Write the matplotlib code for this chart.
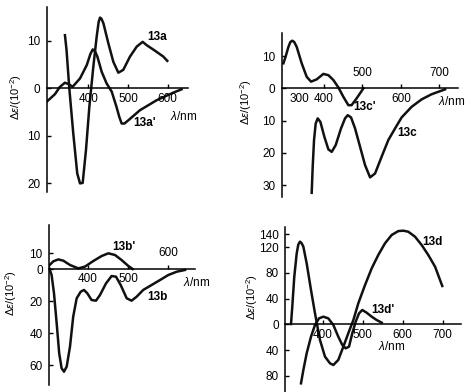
import matplotlib
matplotlib.use("Agg")
import matplotlib.pyplot as plt

plt.rcParams['font.family'] = ['Liberation Sans', 'DejaVu Sans']
plt.rcParams['mathtext.fontset'] = 'custom'
plt.rcParams['mathtext.rm'] = 'Liberation Sans'
plt.rcParams['mathtext.it'] = 'Liberation Sans:italic'

# --- data (wavelength in nm, delta-epsilon in 10^-2) ---
wl_13a = [341, 345, 352, 362, 372, 379, 385.7, 394, 402.5, 412.6, 421, 426, 429.4, 432.8, 438,
          450.4, 463, 475.6, 488, 505, 522, 537, 547, 559.7, 572, 589, 599]
de_13a = [11.2, 8.1, 0, -9.5, -17.9, -20, -19.9, -13, -3.9, 4.6, 10.9, 14.0, 14.9, 14.7, 13.7,
          9.5, 5.6, 3.3, 3.9, 6.7, 8.8, 9.8, 9.1, 8.4, 7.7, 6.7, 5.8]
wl_13a2 = [295, 316, 328, 341, 350, 360.5, 379, 396, 405, 411, 417, 422.7, 433.6, 446, 459,
           471, 478, 484, 491, 501, 530, 572, 614, 635]
de_13a2 = [-2.8, -1.2, 0.3, 1.2, 0.9, 0.35, 2.1, 4.9, 7.2, 8.2, 7.8, 6.7, 3.5, 1.05, -0.7,
           -3.9, -6.0, -7.4, -7.4, -6.7, -4.6, -2.5, -0.9, -0.2]

wl_13c2 = [295, 301, 308, 313, 318, 323, 329.4, 342.4, 355.4, 366.7, 381.4, 398.7, 411.7,
           424.7, 437.7, 450.6, 463.6, 472, 485, 502.6]
de_13c2 = [7.8, 10, 12.9, 14.4, 14.8, 14.4, 12.9, 7.8, 3.6, 2.1, 2.8, 4.5, 4.1,
           2.6, 0.3, -2.6, -5.2, -5.2, -3.1, 0]
wl_13c = [368.4, 371, 374.5, 378.8, 384, 391, 401.3, 411.7, 420.3, 430.7, 444.6, 455, 462,
          470.6, 481, 494, 507, 520, 533, 550, 567.5, 585, 602, 628, 654, 680, 714.7]
de_13c = [-32.4, -24.3, -16, -10.9, -9.3, -10.4, -15, -18.9, -19.7, -17.6, -12.4, -9.3, -8.3,
          -9, -12.4, -18.1, -23.8, -27.6, -26.4, -21.2, -16, -12.4, -9, -5.7, -3.4, -1.8, -0.3]

wl_13b2 = [303.3, 313.3, 325.8, 338.3, 355, 375.8, 392.5, 413.3, 434, 450.8, 467.5, 484,
           500.8, 511.7]
de_13b2 = [2.3, 4.8, 6, 5.2, 2.5, 0.4, 1.5, 5, 8.1, 9.8, 8.75, 5.6, 1.9, 0]
wl_13b = [303.3, 309, 315, 321.7, 328, 334, 340, 346.7, 355, 363, 371.7, 381.7, 390, 398.3,
          409, 420, 430, 445, 459, 470, 481.7, 496.7, 509, 521.7, 538, 559, 580, 600.8,
          621.7, 642.5]
de_13b = [0.4, -3.75, -15.2, -34, -52.7, -62, -64.2, -61, -48.5, -29.8, -18.3, -14.2, -13.1,
          -15.2, -19.4, -19.8, -16.25, -9, -4.4, -4.8, -10, -18.3, -19.8, -17.3, -13.1, -10,
          -6.9, -3.75, -1.7, -0.6]

wl_13d = [320.8, 324, 329, 335, 339, 343.3, 347.5, 351.7, 360, 370.8, 380.8, 393.3, 405.8,
          418.3, 426.7, 439, 451.7, 464, 476.7, 489, 505.8, 522.5, 539, 555.8, 572.5, 589,
          601.7, 614, 630.8, 647.5, 664, 681, 699]
de_13d = [0.5, 27.5, 74, 110, 124, 128.5, 126, 120.7, 94.8, 53.4, 17, -24.4, -50.3,
          -60.6, -63.2, -55.4, -34.7, -14, 6.7, 32.6, 61, 87, 107.8, 126, 138.9, 145,
          145.6, 144, 136.3, 123.3, 107.8, 89.6, 59.6]
wl_13d2 = [345.8, 351.7, 360, 370.8, 380.8, 390.8, 401.7, 414, 426.7, 439, 449, 457.5, 465.8,
           474, 482.5, 490.8, 499, 510, 522.5, 535, 547.5]
de_13d2 = [-91.7, -71, -45, -19.2, -1, 9.3, 11.9, 9.3, -1, -19.2, -32, -37.3, -34.7,
           -14, 4.1, 17, 22.3, 18.1, 11.9, 6.7, 2.6]

ylab = r'$\Delta\epsilon$/(10$^{-2}$)'
xlab = r'$\lambda$/nm'

W, H = 471, 392
fig = plt.figure(figsize=(W / 100, H / 100), dpi=100)
fig.patch.set_facecolor('white')


def panel(left, right, top, bottom, xlim, ylim, yticks, xticks, above=()):
    ax = fig.add_axes([left / W, 1 - bottom / H, (right - left) / W, (bottom - top) / H])
    ax.set_xlim(xlim)
    ax.set_ylim(ylim)
    ax.patch.set_alpha(0)
    for s in ['top', 'right']:
        ax.spines[s].set_visible(False)
    ax.spines['bottom'].set_position(('data', 0))
    for s in ['left', 'bottom']:
        ax.spines[s].set_linewidth(1.1)
    ax.tick_params(direction='in', length=3, width=1.0, labelsize=8.5, pad=4.5)
    ax.set_yticks(yticks)
    ax.set_yticklabels([str(abs(t)) for t in yticks])
    ax.set_xticks(xticks)
    ax.set_xticklabels([])
    for t in xticks:
        if t in above:
            ax.annotate(str(t), (t, 0), xytext=(0, 7), textcoords='offset points',
                        ha='center', va='bottom', fontsize=8.5)
        else:
            ax.annotate(str(t), (t, 0), xytext=(0, -3), textcoords='offset points',
                        ha='center', va='top', fontsize=8.5)
    return ax


def ftext(x, y, s, **kw):
    fig.text(x / W, 1 - y / H, s, ha='center', va='center', **kw)


lw = 1.8
col = '#111111'

# top left: 13a / 13a'
ax = panel(46.7, 188.3, 6.7, 191.7, (295, 652), (-21.75, 17.2), [10, 0, -10, -20], [400, 500, 600])
ax.plot(wl_13a, de_13a, color=col, lw=lw)
ax.plot(wl_13a2, de_13a2, color=col, lw=lw)
ftext(156.7, 37.5, '13a', fontsize=8.5, fontweight='bold')
ftext(145, 123.3, "13a'", fontsize=8.5, fontweight='bold')
ftext(184, 116, xlab, fontsize=8.5)
ftext(15.7, 97, ylab, fontsize=8, rotation=90)

# top right: 13c / 13c'
ax = panel(281.7, 457.7, 33.3, 196.7, (290.5, 747.6), (-33.6, 17.1), [10, 0, -10, -20, -30],
           [400, 500, 600, 700], above=(500, 700))
ax.annotate('300', (300, 0), xytext=(3, -3), textcoords='offset points',
            ha='left', va='top', fontsize=8.5)
ax.plot(wl_13c2, de_13c2, color=col, lw=lw)
ax.plot(wl_13c, de_13c, color=col, lw=lw)
ftext(365, 107.5, "13c'", fontsize=8.5, fontweight='bold')
ftext(406.7, 132.5, '13c', fontsize=8.5, fontweight='bold')
ftext(451.7, 101.7, xlab, fontsize=8.5)
ftext(246, 102.5, ylab, fontsize=8, rotation=90)

# bottom left: 13b / 13b'
ax = panel(49, 195, 225, 385, (302.5, 667.5), (-72.5, 27.5), [10, 0, -20, -40, -60],
           [400, 500, 600], above=(600,))
ax.plot(wl_13b2, de_13b2, color=col, lw=lw)
ax.plot(wl_13b, de_13b, color=col, lw=lw)
ftext(124, 246.7, "13b'", fontsize=8.5, fontweight='bold')
ftext(157.5, 297.5, '13b', fontsize=8.5, fontweight='bold')
ftext(197, 283, xlab, fontsize=8.5)
ftext(11, 293, ylab, fontsize=8, rotation=90)

# bottom right: 13d / 13d'
ax = panel(285, 461, 226.7, 392, (305.8, 745.8), (-105.2, 151.8),
           [140, 120, 80, 40, 0, -40, -80], [400, 500, 600, 700])
ax.plot(wl_13d, de_13d, color=col, lw=lw)
ax.plot(wl_13d2, de_13d2, color=col, lw=lw)
ftext(432.5, 241.7, '13d', fontsize=8.5, fontweight='bold')
ftext(382.5, 310, "13d'", fontsize=8.5, fontweight='bold')
ftext(392, 346, xlab, fontsize=8.5)
ftext(251.7, 296.7, ylab, fontsize=8, rotation=90)

fig.savefig('out.png', dpi=100, facecolor='white')
